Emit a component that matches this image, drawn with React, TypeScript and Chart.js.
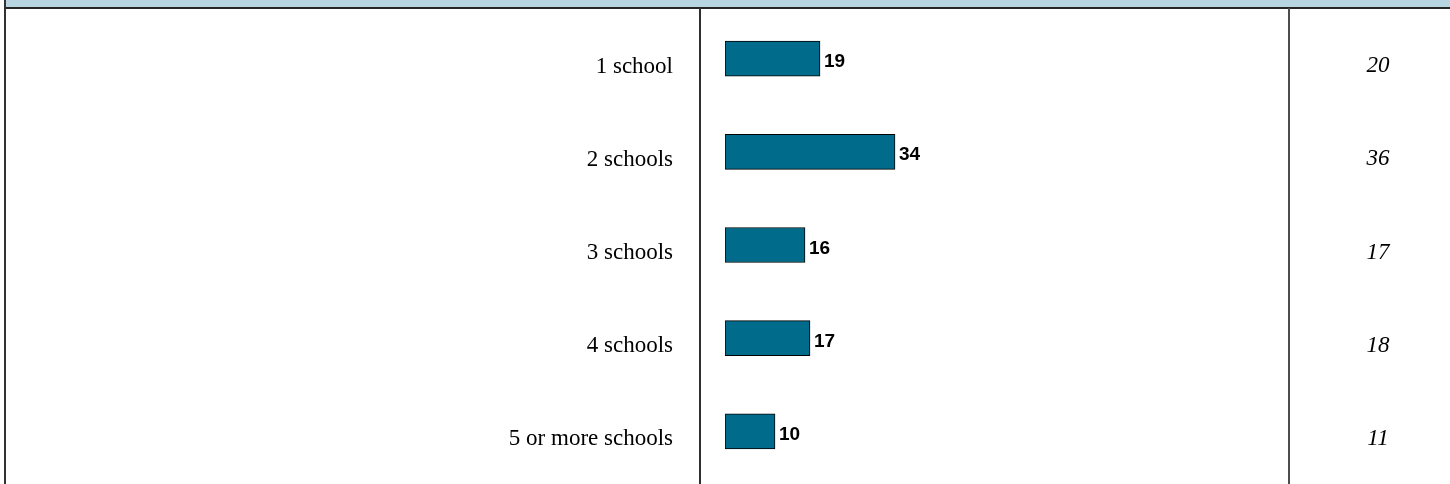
import React, { useEffect, useRef } from 'react';
import { Chart, registerables } from 'chart.js';

Chart.register(...registerables);

const categories = ['1 school', '2 schools', '3 schools', '4 schools', '5 or more schools'];
const barValues = [19, 34, 16, 17, 10];
const rightValues = [20, 36, 17, 18, 11];

export default function App() {
  const ref = useRef<HTMLCanvasElement>(null);

  useEffect(() => {
    document.body.style.margin = '0';
    const canvas = ref.current;
    if (!canvas) return;

    const framePlugin = {
      id: 'frame',
      beforeDraw(chart: any) {
        const { ctx, width, height } = chart;
        ctx.save();
        ctx.fillStyle = '#ffffff';
        ctx.fillRect(0, 0, width, height);
        ctx.fillStyle = '#B8D6E1';
        ctx.fillRect(5, 0, width - 5, 7);
        ctx.fillStyle = '#262626';
        ctx.fillRect(4, 7, width - 4, 2);
        ctx.fillStyle = '#333333';
        ctx.fillRect(4, 0, 2, height);
        ctx.fillStyle = '#2e2e2e';
        ctx.fillRect(699, 8, 2, height - 8);
        ctx.fillStyle = '#4d4d4d';
        ctx.fillRect(1288, 8, 2, height - 8);
        ctx.restore();
      },
      afterDraw(chart: any) {
        const { ctx } = chart;
        const yScale = chart.scales.y;
        const meta = chart.getDatasetMeta(0);
        ctx.save();
        ctx.fillStyle = '#000000';
        ctx.textBaseline = 'alphabetic';
        categories.forEach((label, i) => {
          const y = yScale.getPixelForValue(i);
          ctx.font = '23px "Liberation Serif", "Times New Roman", serif';
          ctx.textAlign = 'right';
          ctx.fillText(label, 673, y + 14);
        });
        meta.data.forEach((bar: any, i: number) => {
          ctx.font = 'bold 19px "Liberation Sans", Arial, sans-serif';
          ctx.textAlign = 'left';
          ctx.fillText(String(barValues[i]), bar.x + 4, bar.y + 8.5);
          ctx.font = 'italic 23px "Liberation Serif", "Times New Roman", serif';
          ctx.textAlign = 'center';
          ctx.fillText(String(rightValues[i]), 1378, bar.y + 13.5);
        });
        ctx.restore();
      },
    };

    const chart = new Chart(canvas, {
      type: 'bar',
      data: {
        labels: categories,
        datasets: [
          {
            data: barValues,
            backgroundColor: '#006B8B',
            borderColor: '#000000',
            borderWidth: 1,
            borderSkipped: false,
            barThickness: 35,
          },
        ],
      },
      options: {
        indexAxis: 'y',
        responsive: false,
        animation: false,
        events: [],
        layout: { padding: { left: 725, right: 225, top: 12, bottom: 6 } },
        plugins: {
          legend: { display: false },
          tooltip: { enabled: false },
        },
        scales: {
          x: { type: 'linear', min: 0, max: 100, display: false },
          y: { type: 'category', offset: true, display: false },
        },
      },
      plugins: [framePlugin],
    });

    return () => chart.destroy();
  }, []);

  return (
    <div style={{ position: 'relative', width: 1450, height: 484 }}>
      <canvas ref={ref} width={1450} height={484} />
    </div>
  );
}
